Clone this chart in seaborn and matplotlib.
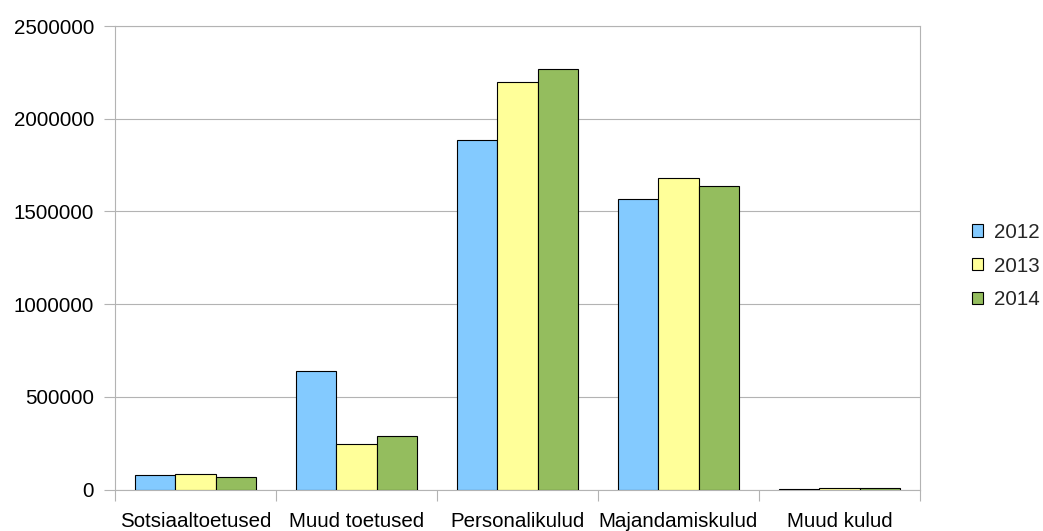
import matplotlib
matplotlib.use("Agg")
import matplotlib.pyplot as plt
import seaborn as sns
import pandas as pd
from matplotlib.ticker import FixedLocator, FuncFormatter

# Expense categories and yearly totals
categories = ["Sotsiaaltoetused", "Muud toetused", "Personalikulud",
              "Majandamiskulud", "Muud kulud"]
years = ["2012", "2013", "2014"]
values_2012 = [77000, 641000, 1885000, 1569000, 1500]
values_2013 = [84000, 247000, 2200000, 1679000, 10000]
values_2014 = [66000, 287000, 2270000, 1635000, 10000]
y_ticks = [0, 500000, 1000000, 1500000, 2000000, 2500000]
colors = ["#83caff", "#ffff99", "#94bd5e"]

sns.set_theme(style="white")
plt.rcParams["font.family"] = ["Liberation Sans", "DejaVu Sans"]

df = pd.DataFrame({
    "Kategooria": categories * 3,
    "Aasta": [y for y in years for _ in categories],
    "Summa": values_2012 + values_2013 + values_2014,
})

grid_color = "#b3b3b3"
fs = 14.8

fig = plt.figure(figsize=(10.43, 5.31), dpi=100)
ax = fig.add_axes([115 / 1043, 41.5 / 531, 805 / 1043, 463.5 / 531])

sns.barplot(data=df, x="Kategooria", y="Summa", hue="Aasta",
            order=categories, hue_order=years,
            palette=dict(zip(years, colors)), saturation=1,
            width=0.75, edgecolor="black", linewidth=0.8,
            errorbar=None, ax=ax, zorder=3)

ax.set_xlim(-0.5, len(categories) - 0.5)
ax.set_ylim(0, y_ticks[-1])
ax.set_xlabel("")
ax.set_ylabel("")

ax.yaxis.set_major_locator(FixedLocator(y_ticks))
ax.yaxis.set_major_formatter(FuncFormatter(lambda v, p: f"{int(v)}"))
ax.yaxis.grid(True, color=grid_color, linewidth=0.8, zorder=0)
ax.set_axisbelow(True)

# Category boundaries marked with outward minor ticks
ax.xaxis.set_minor_locator(FixedLocator([i - 0.5 for i in range(len(categories) + 1)]))
ax.tick_params(axis="x", which="major", length=0, pad=16, labelsize=fs,
               labelcolor="black")
ax.tick_params(axis="x", which="minor", bottom=True, length=8, width=0.8,
               color=grid_color, direction="out")
ax.tick_params(axis="y", which="major", left=True, length=8, width=0.8,
               color=grid_color, direction="out", pad=7, labelsize=fs,
               labelcolor="black")

for side in ["left", "right", "top", "bottom"]:
    ax.spines[side].set_visible(True)
    ax.spines[side].set_color(grid_color)
    ax.spines[side].set_linewidth(0.8)

sns.move_legend(ax, loc="center left",
                bbox_to_anchor=(971.7 / 1043, 0.499),
                bbox_transform=fig.transFigure,
                frameon=False, title=None, fontsize=fs,
                handlelength=0.55, handleheight=0.55, handletextpad=0.55,
                labelspacing=0.72, borderpad=0, borderaxespad=0)

fig.savefig("out.png", dpi=100)
